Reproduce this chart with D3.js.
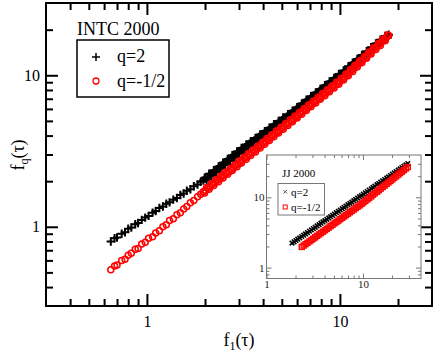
<!DOCTYPE html>
<html>
<head>
<meta charset="utf-8">
<script src="https://cdn.jsdelivr.net/npm/d3@7"></script>
<style>
body { margin: 0; background: #fff; }
text { font-family: "Liberation Serif", "Times New Roman", serif; }
</style>
</head>
<body>
<svg id="chart" width="436" height="354"></svg>
<script>
// main plot: INTC 2000, f_q(tau) against f_1(tau)
var f1 = [0.65,0.68,0.70,0.74,0.77,0.80,0.83,0.87,0.90,0.94,0.98,1.02,1.07,1.11,1.16,1.21,1.26,1.31,1.37,1.43,1.49,1.55,1.61,1.68,1.75,1.83,1.90,
  1.96,1.99,2.01,2.04,2.07,2.10,2.13,2.16,2.19,2.22,2.25,2.28,2.31,2.35,2.38,2.41,2.44,2.48,2.51,2.55,2.58,2.62,2.66,2.70,2.73,2.77,2.81,2.85,2.88,2.93,
  2.97,3.01,3.05,3.09,3.13,3.18,3.22,3.27,3.31,3.36,3.40,3.45,3.50,3.55,3.60,3.65,3.70,3.75,3.80,3.86,3.91,3.97,4.02,4.08,4.13,4.19,4.25,4.31,4.37,4.43,
  4.49,4.55,4.61,4.68,4.74,4.81,4.88,4.95,5.01,5.08,5.15,5.23,5.30,5.38,5.45,5.53,5.60,5.68,5.75,5.84,5.92,6.00,6.08,6.17,6.25,6.34,6.43,6.52,6.61,6.70,
  6.79,6.89,6.98,7.08,7.18,7.28,7.38,7.49,7.59,7.70,7.80,7.91,8.02,8.13,8.24,8.36,8.47,8.59,8.71,8.83,8.95,9.08,9.20,9.33,9.46,9.60,9.73,9.87,10.0,10.15,
  10.3,10.45,10.6,10.75,10.9,11.05,11.2,11.35,11.5,11.65,11.8,11.95,12.1,12.3,12.5,12.65,12.8,13.0,13.2,13.4,13.6,13.75,13.9,14.1,14.3,14.5,14.7,14.9,
  15.1,15.35,15.6,15.8,16.0,16.2,16.4,16.65,16.9,17.15,17.4,17.65,17.9];
var fq2 = [0.80,0.84,0.85,0.90,0.92,0.97,0.99,1.04,1.06,1.11,1.15,1.18,1.24,1.27,1.33,1.36,1.42,1.45,1.51,1.55,1.62,1.66,1.73,1.77,1.85,1.90,1.98,
  2.02,2.11,2.08,2.04,2.13,2.24,2.21,2.17,2.26,2.36,2.32,2.29,2.40,2.50,2.45,2.42,2.54,2.65,2.60,2.57,2.69,2.80,2.75,2.72,2.85,2.97,2.91,2.87,3.01,3.14,
  3.08,3.04,3.18,3.31,3.25,3.20,3.35,3.49,3.42,3.37,3.53,3.67,3.60,3.55,3.71,3.86,3.79,3.73,3.91,4.07,3.99,3.93,4.11,4.28,4.20,4.14,4.33,4.51,4.42,4.36,
  4.56,4.75,4.66,4.59,4.80,5.00,4.90,4.83,5.05,5.26,5.16,5.08,5.32,5.54,5.43,5.35,5.60,5.83,5.73,5.65,5.92,6.16,6.05,5.97,6.26,6.52,6.40,6.31,6.62,6.89,
  6.76,6.67,6.99,7.28,7.15,7.05,7.39,7.70,7.56,7.45,7.81,8.13,7.97,7.87,8.25,8.60,8.44,8.33,8.73,9.09,8.93,8.80,9.22,9.61,9.44,9.31,9.75,10.2,10.0,9.85,
  10.3,10.75,10.6,10.4,10.9,11.45,11.3,11.1,11.6,12.1,11.9,11.75,12.3,12.8,12.6,12.4,13.0,13.6,13.4,13.2,13.8,14.4,14.2,14.0,14.6,15.3,15.1,14.85,
  15.5,16.2,16.0,15.7,16.4,17.15,16.9,16.65,17.4,18.2,18.0,17.7,18.5];
var fqHalf = [0.52,0.55,0.56,0.60,0.61,0.65,0.67,0.71,0.72,0.77,0.79,0.84,0.86,0.91,0.94,1.00,1.03,1.10,1.13,1.20,1.24,1.31,1.36,1.44,1.49,1.58,1.64,
  1.70,1.67,1.74,1.82,1.80,1.77,1.84,1.93,1.91,1.87,1.95,2.04,2.02,1.98,2.06,2.16,2.14,2.10,2.19,2.29,2.26,2.22,2.31,2.42,2.39,2.35,2.45,2.57,2.54,2.49,
  2.59,2.72,2.69,2.64,2.75,2.88,2.84,2.79,2.91,3.05,3.01,2.95,3.08,3.22,3.18,3.12,3.26,3.41,3.37,3.31,3.45,3.62,3.57,3.50,3.65,3.83,3.78,3.71,3.87,4.05,
  4.00,3.93,4.10,4.29,4.23,4.16,4.34,4.54,4.48,4.40,4.59,4.80,4.74,4.66,4.86,5.09,5.02,4.93,5.15,5.39,5.31,5.22,5.45,5.70,5.62,5.53,5.78,6.04,5.95,5.85,
  6.11,6.39,6.30,6.19,6.47,6.77,6.67,6.56,6.85,7.16,7.06,6.94,7.25,7.58,7.47,7.34,7.67,8.02,7.91,7.78,8.13,8.50,8.37,8.24,8.61,9.00,8.86,8.72,9.12,9.55,
  9.43,9.30,9.74,10.2,10.1,9.94,10.4,10.9,10.8,10.6,11.1,11.65,11.5,11.35,11.9,12.45,12.3,12.1,12.7,13.3,13.1,12.95,13.6,14.2,14.0,13.8,14.5,15.2,
  15.0,14.8,15.5,16.2,16.0,15.75,16.5,17.3,17.1,16.9,17.7,18.5,18.3];

// inset: JJ 2000
var jjF1 = [1.84,1.93,2.02,2.11,2.21,2.32,2.43,2.54,2.66,2.79,2.92,3.06,3.20,3.35,3.51,3.67,3.85,4.03,4.22,4.42,
  4.62,4.84,5.07,5.31,5.56,5.82,6.10,6.38,6.68,7.00,7.33,7.67,8.04,8.41,8.81,9.23,9.66,10.1,10.6,11.1,
  11.6,12.2,12.7,13.3,14.0,14.6,15.3,16.0,16.8,17.6,18.4,19.3,20.2,21.1,22.1,23.2,24.3,25.4,26.6,27.9,29.2];
var jjQ2 = [2.23,2.33,2.43,2.54,2.65,2.77,2.89,3.02,3.15,3.29,3.44,3.59,3.75,3.92,4.09,4.28,4.47,4.66,4.87,5.09,
  5.31,5.55,5.79,6.05,6.32,6.60,6.89,7.20,7.52,7.85,8.20,8.56,8.94,9.34,9.76,10.2,10.6,11.1,11.6,12.1,
  12.7,13.2,13.8,14.4,15.1,15.7,16.4,17.2,17.9,18.7,19.5,20.4,21.3,22.3,23.3,24.3,25.4,26.5,27.7,28.9,30.2];
var jjQHalf = [null,null,null,null,null,1.97,2.06,2.15,2.25,2.36,2.47,2.58,2.70,2.83,2.96,3.10,3.24,3.39,3.55,3.71,
  3.89,4.07,4.26,4.46,4.66,4.88,5.11,5.34,5.59,5.85,6.12,6.41,6.70,7.02,7.34,7.68,8.04,8.43,8.86,9.32,
  9.81,10.3,10.9,11.4,12.0,12.6,13.3,14.0,14.7,15.5,16.3,17.1,18.0,19.0,19.9,21.0,22.1,23.2,24.4,25.7,27.0];

if (fq2.length !== f1.length || fqHalf.length !== f1.length || jjQ2.length !== jjF1.length || jjQHalf.length !== jjF1.length) {
    throw new Error("length mismatch " + [f1.length, fq2.length, fqHalf.length, jjF1.length, jjQ2.length, jjQHalf.length].join(","));
}

// ticks
var majorTicks = [1, 10];
var majorLabels = ["1", "10"];
var mainMinorX = [0.4,0.5,0.6,0.7,0.8,0.9,2,3,4,5,6,7,8,9,20];
var mainMinorY = [0.4,0.5,0.6,0.7,0.8,0.9,2,3,4,5,6,7,8,9,20];
var insetMinorX = [2,3,4,5,6,7,8,9,20,30];
var insetMinorY = [0.8,0.9,2,3,4,5,6,7,8,9,20,30];

var legendMain = ["q=2", "q=-1/2"];
var legendInset = ["q=2", "q=-1/2"];

var svg = d3.select("#chart");

// box with inward ticks on all four sides
function frameAxes(g, x, y, opt) {
    var x0 = x.range()[0], x1 = x.range()[1], y0 = y.range()[0], y1 = y.range()[1];
    var sets = [[opt.major, opt.big, true], [opt.minorX, opt.small, false]];
    var setsY = [[opt.major, opt.big, true], [opt.minorY, opt.small, false]];
    sets.forEach(function(s) {
        var b = g.append("g").attr("transform", "translate(0," + y0 + ")")
            .call(d3.axisBottom(x).tickValues(s[0]).tickSizeInner(-s[1]).tickSizeOuter(0)
                .tickPadding(opt.padX).tickFormat(function(d, i) { return s[2] ? majorLabels[i] : ""; }));
        var t = g.append("g").attr("transform", "translate(0," + y1 + ")")
            .call(d3.axisTop(x).tickValues(s[0]).tickSizeInner(-s[1]).tickSizeOuter(0).tickFormat(""));
        [b, t].forEach(function(a) { a.select(".domain").remove(); });
    });
    setsY.forEach(function(s) {
        var l = g.append("g").attr("transform", "translate(" + x0 + ",0)")
            .call(d3.axisLeft(y).tickValues(s[0]).tickSizeInner(-s[1]).tickSizeOuter(0)
                .tickPadding(opt.padY).tickFormat(function(d, i) { return s[2] ? majorLabels[i] : ""; }));
        var r = g.append("g").attr("transform", "translate(" + x1 + ",0)")
            .call(d3.axisRight(y).tickValues(s[0]).tickSizeInner(-s[1]).tickSizeOuter(0).tickFormat(""));
        [l, r].forEach(function(a) { a.select(".domain").remove(); });
    });
    g.selectAll(".tick line").attr("stroke", opt.color).attr("stroke-width", opt.lw);
    g.selectAll(".tick text").attr("font-family", "Liberation Serif").attr("font-size", opt.fs).attr("fill", opt.text);
    g.append("rect").attr("x", x0).attr("y", y1).attr("width", x1 - x0).attr("height", y0 - y1)
        .attr("fill", "none").attr("stroke", opt.color).attr("stroke-width", opt.lw);
}

// ---- main chart
var x = d3.scaleLog().domain([0.3, 30]).range([46, 432]);
var y = d3.scaleLog().domain([0.3, 30]).range([306, 3]);

var gMain = svg.append("g");
frameAxes(gMain, x, y, {major: majorTicks, minorX: mainMinorX, minorY: mainMinorY,
    big: 12, small: 7, padX: 10, padY: 6, color: "#000", text: "#000", lw: 2, fs: 16});

var mainData = f1.map(function(d, i) { return {x: d, a: fq2[i], b: fqHalf[i]}; });

gMain.append("g").selectAll("path").data(mainData).enter().append("path")
    .attr("d", "M-4.2,0H4.2M0,-4.2V4.2")
    .attr("transform", function(d) { return "translate(" + x(d.x) + "," + y(d.a) + ")"; })
    .attr("stroke", "#000").attr("stroke-width", 2).attr("fill", "none");

gMain.append("g").selectAll("circle").data(mainData).enter().append("circle")
    .attr("cx", function(d) { return x(d.x); })
    .attr("cy", function(d) { return y(d.b); })
    .attr("r", 3)
    .attr("stroke", "#ff0000").attr("stroke-width", 1.5).attr("fill", "none");

// axis titles
var xt = svg.append("text").attr("x", 239).attr("y", 346).attr("text-anchor", "middle").attr("font-size", 18);
xt.append("tspan").text("f");
xt.append("tspan").attr("font-size", 12).attr("dy", 4).text("1");
xt.append("tspan").attr("dy", -4).text("(τ)");

var yt = svg.append("text").attr("transform", "translate(24,155) rotate(-90)").attr("text-anchor", "middle").attr("font-size", 18);
yt.append("tspan").text("f");
yt.append("tspan").attr("font-size", 12).attr("dy", 4).text("q");
yt.append("tspan").attr("dy", -4).text("(τ)");

// legend
svg.append("text").attr("x", 77).attr("y", 35).attr("font-size", 18).text("INTC 2000");
svg.append("rect").attr("x", 77).attr("y", 40).attr("width", 92).attr("height", 57)
    .attr("fill", "#fff").attr("stroke", "#000").attr("stroke-width", 1.5);
svg.append("path").attr("d", "M92,57H100M96,53V61").attr("stroke", "#000").attr("stroke-width", 1.5);
svg.append("circle").attr("cx", 96).attr("cy", 81).attr("r", 3).attr("fill", "none").attr("stroke", "#ff0000").attr("stroke-width", 1.3);
svg.append("text").attr("x", 117).attr("y", 62).attr("font-size", 18).text(legendMain[0]);
svg.append("text").attr("x", 117).attr("y", 86.5).attr("font-size", 18).text(legendMain[1]);

// ---- inset chart
var ix = d3.scaleLog().domain([1, 40]).range([266.5, 421]);
var iy = d3.scaleLog().domain([0.7, 40]).range([278.5, 155]);

var gIn = svg.append("g");
gIn.append("rect").attr("x", 266.5).attr("y", 155).attr("width", 154.5).attr("height", 123.5).attr("fill", "#fff");
frameAxes(gIn, ix, iy, {major: majorTicks, minorX: insetMinorX, minorY: insetMinorY,
    big: 5, small: 3, padX: 2, padY: 2, color: "#777", text: "#222", lw: 1, fs: 11});

var jjData = jjF1.map(function(d, i) { return {x: d, a: jjQ2[i], b: jjQHalf[i]}; });

gIn.append("g").selectAll("path").data(jjData).enter().append("path")
    .attr("d", "M-2.3,-2.3L2.3,2.3M-2.3,2.3L2.3,-2.3")
    .attr("transform", function(d) { return "translate(" + ix(d.x) + "," + iy(d.a) + ")"; })
    .attr("stroke", "#000").attr("stroke-width", 1.6).attr("fill", "none");

gIn.append("g").selectAll("rect").data(jjData.filter(function(d) { return d.b != null; })).enter().append("rect")
    .attr("x", function(d) { return ix(d.x) - 2.5; })
    .attr("y", function(d) { return iy(d.b) - 2.5; })
    .attr("width", 5).attr("height", 5)
    .attr("stroke", "#ff0000").attr("stroke-width", 1.4).attr("fill", "none");

// inset legend
svg.append("text").attr("x", 282).attr("y", 177).attr("font-size", 11).text("JJ 2000");
svg.append("rect").attr("x", 278).attr("y", 183.5).attr("width", 46.5).attr("height", 31.5)
    .attr("fill", "#fff").attr("stroke", "#777").attr("stroke-width", 1);
svg.append("path").attr("d", "M283.5,190L287,193.5M283.5,193.5L287,190").attr("stroke", "#555").attr("stroke-width", 1);
svg.append("rect").attr("x", 283.2).attr("y", 205).attr("width", 4).attr("height", 4)
    .attr("fill", "none").attr("stroke", "#ff0000").attr("stroke-width", 1);
svg.append("text").attr("x", 291).attr("y", 195.5).attr("font-size", 11).text(legendInset[0]);
svg.append("text").attr("x", 291).attr("y", 210.5).attr("font-size", 11).text(legendInset[1]);
</script>
</body>
</html>
